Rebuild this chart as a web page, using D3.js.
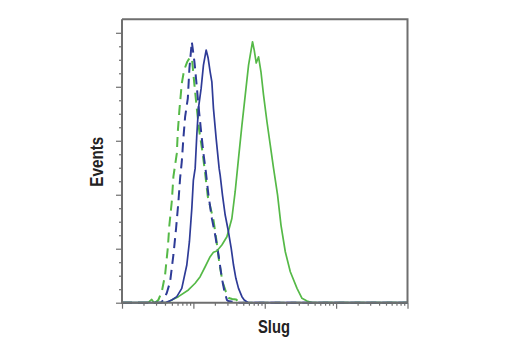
<!DOCTYPE html>
<html><head><meta charset="utf-8">
<script src="https://cdn.jsdelivr.net/npm/d3@7"></script>
<style>body{margin:0;background:#fff}</style>
</head><body>
<svg id="c" width="520" height="350"></svg>
<script>
// Data (fluorescence intensity, event counts)
const xLabel = "Slug";
const yLabel = "Events";
const xDomain = [1, 10000];
const yDomain = [0, 262.5];
const yMajorTicks = [0, 50, 100, 150, 200, 250];
const yMinorStep = 12.5;

const blueDashed = [
  [1,0],[3.5,0],[3.80,2.5],[4.24,9.0],[4.72,19.4],[5.25,44.2],[5.73,69.2],[6.17,93.5],[6.52,115.5],
  [6.88,130.6],[7.25,152.5],[7.66,172.2],[8.36,189.3],[8.80,217],[9.51,241.7],[10.35,223.1],
  [11.17,200],[11.77,183],[12.84,158.3],[13.84,138.3],[14.95,121.3],[16.27,99.7],[18.15,78.1],
  [20.2,62.7],[22.5,44.2],[25.1,22.6],[27.0,11.8],[29.5,2.5],[31,1.5],[35,1],[38,0],[10000,0]
];
const greenDashed = [
  [1,0],[2.9,0],[3.23,2.5],[3.61,10.2],[4.01,25.6],[4.38,50.4],[4.61,71.9],[4.98,93.5],[5.25,116.7],
  [5.86,138.3],[6.05,158.3],[6.37,178.4],[6.88,203.1],[7.42,215.5],[8.17,222.9],[9.0,227.5],
  [9.6,224.7],[10.35,201.6],[11.17,180],[12.05,159.9],[13.4,139.8],[14.62,119.8],[15.95,98.1],
  [19.11,76.6],[20.84,59.9],[22.96,38],[25.57,19.4],[28.5,10.2],[31.2,4.4],[35,3.4],[39.8,3],
  [43.9,0],[10000,0]
];
const blueSolid = [
  [1,0],[4.01,0],[4.98,2.5],[5.86,5.6],[6.88,13.3],[8.09,34.9],[8.8,56.5],[9.51,87.4],[10.0,113.6],
  [10.59,124.4],[11.17,155.3],[11.77,180],[12.84,198.5],[13.84,220.1],[15.1,234],[16.1,226.6],
  [17.18,213.9],[18.15,204.6],[19.11,180],[20.84,152.2],[22.96,124.4],[23.73,118.2],[25.57,99.7],
  [27.9,81.2],[31.0,65.7],[33.9,50.4],[36.5,34.9],[39.4,22.6],[42.9,13.3],[47.9,5.6],[51.6,2.5],
  [58.7,0],[10000,0]
];
const greenSolid = [
  [1,0],[2.32,0],[2.61,3],[2.81,0],[4.24,0],[4.98,2.5],[6.17,5.6],[8.52,11.8],[10.58,18],
  [12.44,24.1],[14.62,33.3],[17.18,42.6],[19.11,46.7],[21.33,47.9],[25.07,53.4],[29.5,61.1],
  [34.6,78],[38.5,102.8],[42.9,133.7],[47.9,164.5],[53.3,192.3],[59.3,220.1],[67.4,241.7],
  [71.2,234],[76.0,222],[81.9,227.8],[88.5,213.9],[96.2,192.3],[107.4,167.6],[119.5,146],
  [132.9,124.4],[151.3,99.7],[168.8,71.9],[194.0,47.2],[228.0,28.7],[283.2,13.3],[332.6,4.1],
  [391,1.6],[464,0],[10000,0]
];

const svg = d3.select("#c");
const L = 122, R = 407.5, T = 19.3, B = 302.7;
const x = d3.scaleLog().domain(xDomain).range([L, R]);
const y = d3.scaleLinear().domain(yDomain).range([B, T]);

const blue = "#2e3b97", green = "#55b947", gray = "#6f6f6f";

const line = d3.line().x(d => x(d[0])).y(d => y(d[1]));
const plot = svg.append("g");
const series = [
  {d: greenDashed, c: green, dash: "10,6"},
  {d: blueDashed, c: blue, dash: "10,6"},
  {d: greenSolid, c: green, dash: null},
  {d: blueSolid, c: blue, dash: null}
];
series.forEach(s => {
  plot.append("path").datum(s.d).attr("d", line)
    .attr("fill", "none").attr("stroke", s.c).attr("stroke-width", s.dash ? 2 : 1.7)
    .attr("stroke-linejoin", "round")
    .attr("stroke-dasharray", s.dash);
});

// frame top/right
svg.append("path")
  .attr("d", `M${L},${T}H${R}V${B}`)
  .attr("fill", "none").attr("stroke", gray).attr("stroke-width", 2);

// x axis
const majorX = [1, 10, 100, 1000, 10000];
const minorX = [];
for (let e = 0; e < 4; e++) for (let k = 2; k <= 9; k++) minorX.push(k * Math.pow(10, e));
const gx = svg.append("g").attr("transform", `translate(0,${B})`);
gx.call(d3.axisBottom(x).tickValues(minorX).tickSize(3).tickFormat(""));
const gx2 = svg.append("g").attr("transform", `translate(0,${B})`);
gx2.call(d3.axisBottom(x).tickValues(majorX).tickSize(6).tickFormat(""));

// y axis
const minorY = d3.range(0, 262.5, yMinorStep).filter(v => !yMajorTicks.includes(v));
const gy = svg.append("g").attr("transform", `translate(${L},0)`);
gy.call(d3.axisLeft(y).tickValues(minorY).tickSize(3).tickFormat(""));
const gy2 = svg.append("g").attr("transform", `translate(${L},0)`);
gy2.call(d3.axisLeft(y).tickValues(yMajorTicks).tickSize(6).tickFormat(""));

svg.selectAll(".tick line").attr("stroke", gray).attr("stroke-width", 1.2);
[gx, gx2, gy, gy2].forEach(g => g.select(".domain").remove());
svg.append("path").attr("d", `M${L},${T}V${B}H${R}`).attr("fill","none").attr("stroke", gray).attr("stroke-width", 2);

// labels
const font = "'Liberation Sans', Arial, sans-serif";
svg.append("text").text(xLabel)
  .attr("x", 274).attr("y", 333).attr("text-anchor", "middle")
  .attr("textLength", 32).attr("lengthAdjust", "spacingAndGlyphs")
  .attr("font-family", font).attr("font-weight", "bold").attr("font-size", 18).attr("fill", "#222");
svg.append("text").text(yLabel)
  .attr("transform", "translate(102.5,161.7) rotate(-90)").attr("text-anchor", "middle")
  .attr("textLength", 50).attr("lengthAdjust", "spacingAndGlyphs")
  .attr("font-family", font).attr("font-weight", "bold").attr("font-size", 18).attr("fill", "#222");
</script>
</body></html>
